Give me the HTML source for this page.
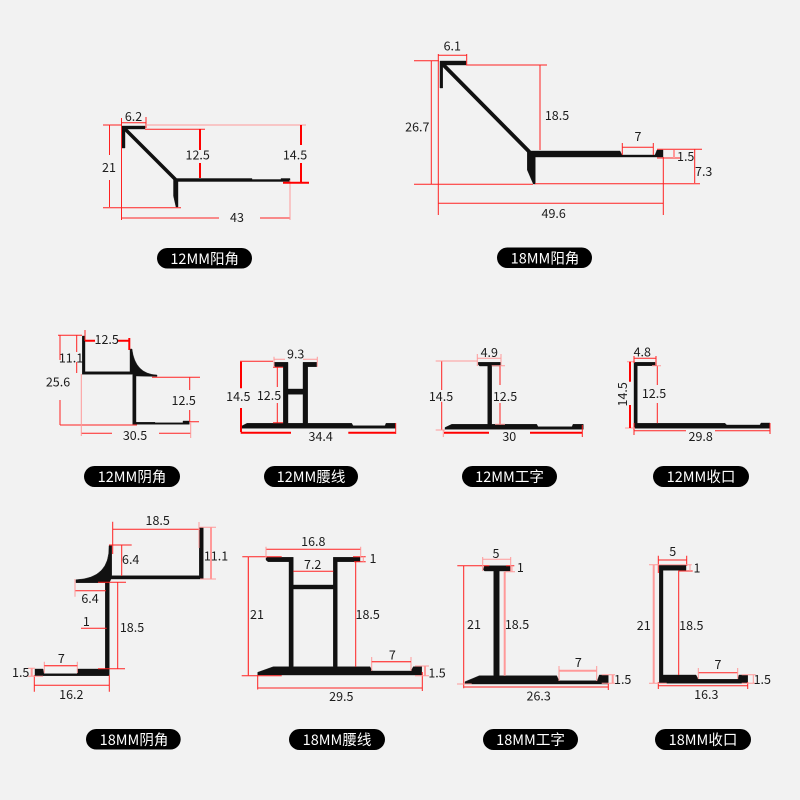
<!DOCTYPE html>
<html><head><meta charset="utf-8"><style>
html,body{margin:0;padding:0;background:#f2f2f2}
svg{display:block}
text{font-family:"Noto Sans CJK SC","Liberation Sans",sans-serif;font-size:12.5px;fill:#1c1c1c;text-anchor:middle;dominant-baseline:central}
.p{fill:#111;stroke:#111;stroke-width:.4}
.r{stroke:#f22;stroke-width:1;fill:none}
.t{stroke:#f00;stroke-width:2;fill:none}
.l{stroke:#f99;stroke-width:1;fill:none}
.w{stroke:#f99;stroke-width:2;fill:none}
.b{fill:#000}
.c{fill:#fff;font-size:14.5px}
</style></head><body>
<svg width="800" height="800" viewBox="0 0 800 800" xmlns="http://www.w3.org/2000/svg">
<rect width="800" height="800" fill="#f2f2f2"/>

<!-- 1: 12MM yang -->
<path class="p" d="M122 126H145V129H125V148H122Z"/>
<path d="M123.500 127.500L175.500 179.500" stroke="#111" stroke-width="3.600" fill="none"/>
<path class="p" d="M173.500 178.500H252V179.500H281V178.500H290V181.500H178V207H176L173.500 196Z"/>
<path class="r" d="M103 125H122M109.500 125V155M109.500 180V207M103 207.700H181M122 122.700H146M121.500 118V220M146 117V128M145 129.300H205M122 218H219M260 218H290"/>
<path class="l" d="M146 125H306M290 180V220"/>
<path class="t" d="M200 129V150M200 163V178M301 125V145M301 163V182M283 182.700H309"/>
<text x="133.500" y="115.500">6.2</text><text x="197.700" y="154">12.5</text><text x="295" y="154">14.5</text><text x="109" y="166.700">21</text><text x="237" y="216.700">43</text>
<rect class="b" x="157" y="248" width="95" height="20.500" rx="10.200"/><text class="c" x="204.700" y="258.500">12MM阳角</text>

<!-- 2: 18MM yang -->
<path class="p" d="M440 61H466V65H442.700V88H440Z"/>
<path d="M442 63.500L529.500 152" stroke="#111" stroke-width="3.800" fill="none"/>
<path class="p" d="M527.300 151H620L622 155H655L657 150H663V157H535.300V184H533.300L527.300 170Z"/>
<path class="r" d="M414 60.700H439M431.300 60.700V184M414 184.300H533M535 183.700H700M438.300 55.300H466.700M438.300 54V215M466.700 54V65M466 65H547M540 65V150M622.300 147.300H653.300M622.300 143V155M653.300 143V155M657 149.300H702M657 158H680M694.700 149V183M663.300 157V215M438.300 203.300H663.300"/>
<path class="w" d="M674 150V158"/>
<text x="452.300" y="45">6.1</text><text x="417.300" y="126">26.7</text><text x="557" y="114.700">18.5</text><text x="638" y="135.700">7</text><text x="685.700" y="155.700">1.5</text><text x="703.700" y="170.700">7.3</text><text x="553.700" y="212.700">49.6</text>
<rect class="b" x="497" y="247.500" width="95" height="20.500" rx="10.200"/><text class="c" x="545" y="258">18MM阳角</text>

<!-- 3: 12MM yin -->
<path class="p" d="M82.300 336H85V371.700H130V349H132Q135 374 157 375V376.500L136 376V422.300H155V422.800L183 422.800V421H189.300V424.300H132.700V374.300H82.300Z"/>
<path class="r" d="M58 335.300H82M60 335.300V360M60 400V425M76.700 335V352M76.700 362V373M152 377.300H200M189.700 377V390M189.700 410V422M190 421.700H199M60 425H137M81 433.300H112M159 433.300H191M85 330V341"/>
<path class="l" d="M81.300 374V436M190.700 422V438"/>
<path class="t" d="M85 340.700H95M118 340.700H129M129.300 338V350"/>
<text x="106.700" y="338.700">12.5</text><text x="71" y="357">11.1</text><text x="58" y="381">25.6</text><text x="183.700" y="399.700">12.5</text><text x="135" y="434.300">30.5</text>
<rect class="b" x="84" y="466" width="96" height="21" rx="10.500"/><text class="c" x="132" y="476.500">12MM阴角</text>

<!-- 4: 12MM waist -->
<path class="p" d="M274 362.300H288V389H303V362.300H316.700V366.700H307.700V423.300H351.700L353 425.700H385L386 423.300H395.700V428.300H241.700V426L247 423.300H283.300V366.700H275L274 365.500ZM288 394.300V423.300H303V394.300Z"/>
<path class="r" d="M277.300 367V387M277.300 403V423.300M273 367.300H283M273 422.700H283M240 361.300H273"/>
<path class="l" d="M274 359.300H285M303 359.300H317.300M274 356.700V366.700M317.300 356.700V366.700"/>
<path class="t" d="M241 361.700V388.300M241 408V432M240.700 432.700H291M348.300 432.700H395.700"/>
<path class="r" d="M395.700 423V434"/>
<text x="295.700" y="353">9.3</text><text x="238.300" y="395.700">14.5</text><text x="269" y="394.700">12.5</text><text x="320.700" y="435.700">34.4</text>
<rect class="b" x="264" y="466" width="94" height="21" rx="10.500"/><text class="c" x="311" y="476.500">12MM腰线</text>

<!-- 5: 12MM I -->
<path class="p" d="M478.300 362.300H500.700V366H491.700V424.300H536.700L538 426.700H572L573 424.300H583.300V429.300H445V427.500L451.700 424.300H487.700V366H479.500L478.300 364.500Z"/>
<path class="r" d="M441.700 361V390M441.700 401.700V430M500 365.700V385M500 403V424.300"/>
<path class="l" d="M435.700 361H477.300M435.700 430H445M477.300 358.300H501M477.300 354V366M501 354V366M491.700 365.700H505M495 424.300H505"/>
<path class="t" d="M444 432.700H489M530 432.700H582.300"/>
<path class="r" d="M582.300 425V437"/><path class="l" d="M443.300 430V437"/>
<text x="489.300" y="351.700">4.9</text><text x="441" y="395.700">14.5</text><text x="505" y="395.700">12.5</text><text x="509.300" y="435.700">30</text>
<rect class="b" x="462" y="466" width="95" height="21" rx="10.500"/><text class="c" x="509.500" y="476.500">12MM工字</text>

<!-- 6: 12MM close -->
<path class="p" d="M634 362.300H655V365.700H637.300V423.300H725L726.700 425H760L761 423H770V428.300H634Z"/>
<path class="r" d="M657.300 365.700V385M657.300 403V423.300M634 430.700H686M715 430.700H770M634 423V435M770 423V434"/>
<path class="l" d="M627 361.700H635M652 365.700H661M625 428H635"/>
<path class="t" d="M630 361.700V381.700M630 405V428"/>
<path class="r" d="M634 358.300H656M634 356V363M656 356V366"/>
<text x="642.300" y="351">4.8</text><text x="621.700" y="394.300" transform="rotate(-90 621.700 394.300)">14.5</text><text x="654" y="392.300">12.5</text><text x="700.700" y="435.700">29.8</text>
<rect class="b" x="653" y="466" width="96" height="21" rx="10.500"/><text class="c" x="701" y="476.500">12MM收口</text>

<!-- 7: 18MM yin -->
<path class="p" d="M199.300 527.700H203.300V579H111L109.300 582.700V669H109.300V675.700H35V669H43L44 673.700H77.300V669H105.300V582.700H76V579.700Q110 578.300 109 545.700H111.700V575.700H199.300Z"/>
<path class="r" d="M112.700 529.300H200M112.700 521.700V554M109 545H131.700M121.700 545V576M98 582.300H126M117.700 582V669M98 668.700H125M75 590.700H106M81 628.300H106.700M34.300 685.300H109.300M34.300 675V691.700M109.300 675V691.700"/>
<path class="l" d="M199 522V548M200 527.300H216M200 579H216M75 579V596.700M44.300 665.700H77.300M44.300 661.700V673M77.300 661.700V673M28 668.300H35M28 676.300H43"/>
<path class="w" d="M211 527.300V579M31.700 668.300V676.300"/>
<path d="M44.300 665.700H77.300" class="r"/>
<text x="157.700" y="519.300">18.5</text><text x="216" y="555">11.1</text><text x="130.700" y="558.300">6.4</text><text x="90" y="597.700">6.4</text><text x="86.300" y="620.700">1</text><text x="132" y="626.700">18.5</text><text x="61.300" y="657.700">7</text><text x="20.700" y="671.700">1.5</text><text x="71.300" y="693.700">16.2</text>
<rect class="b" x="86" y="729" width="94.700" height="20.500" rx="10.200"/><text class="c" x="134" y="739.500">18MM阴角</text>

<!-- 8: 18MM waist -->
<path class="p" d="M266 557.300H293.300V585H333.300V557.300H360V561.700H337.300V666.700H370L372.300 671H411L413.300 666.700H421.700V675H257.700V672.300L273.300 666.700H289V561.700H268L266 560ZM293.300 589V666.700H333.300V589Z"/>
<path class="r" d="M266 549.300H360.700M242.300 556.700H281.700M241.700 675.700H281.700M293.300 571.300H333.300M355.700 561.700V666.700M354 561.700H365.700M353 556.700H365.700M257.700 688H422.300M257.700 675V689.500M422.300 672V691"/>
<path class="l" d="M266 546.700V558M360.700 546.700V558M248.300 556.700V675.700M363.300 556.700V561.700M371.700 661.700H411M371.700 657V671M411 657V671M415 666H429M415 675.700H429"/>
<path class="w" d="M425 666V675.700"/><path class="r" d="M248.300 556.700V675.700M371.700 661.700H411"/>
<text x="313.300" y="540.700">16.8</text><text x="312.700" y="563.300">7.2</text><text x="373" y="557.700">1</text><text x="257" y="613.700">21</text><text x="367.700" y="613.700">18.5</text><text x="392.300" y="654">7</text><text x="437" y="672">1.5</text><text x="341.300" y="695.300">29.5</text>
<rect class="b" x="289" y="729" width="96" height="21" rx="10.500"/><text class="c" x="337" y="739.500">18MM腰线</text>

<!-- 9: 18MM I -->
<path class="p" d="M484.500 565.700H510.700V571H499.300V675.700H556.700L559 680.700H597.300L599.300 675H608.300V684H465V681.700L479.300 675.700H493.700V571H484.500L483.300 569.500Z"/>
<path class="r" d="M457.300 565.700H489.300M463.700 565.700V688.300M463.700 687H608.300M608.300 683V690M506 565.700H514.300"/>
<path class="l" d="M457 684H471.700M482.700 559.300H510.700M482.700 557V571M510.700 557V571M505 571.700H515M512 565.700V571.700M601.700 674.700H615M601.700 683.300H615M559 666V681M596.700 666V681"/>
<path class="w" d="M504.700 571.700V675.700M559 670.700H596.700M612.700 674.700V683.300"/>
<text x="496" y="552.700">5</text><text x="520.300" y="566.700">1</text><text x="474" y="623.700">21</text><text x="517" y="623.700">18.5</text><text x="578.300" y="661.700">7</text><text x="622.700" y="678.700">1.5</text><text x="538.700" y="695">26.3</text>
<rect class="b" x="483" y="729" width="95" height="21" rx="10.500"/><text class="c" x="530.500" y="739.500">18MM工字</text>

<!-- 10: 18MM close -->
<path class="p" d="M659.300 565H686V570.300H663V675H696L698.300 679.300H737.700L739 675H747.700V683.300H659.300Z"/>
<path class="r" d="M658.300 560H686.700M678.300 571H692.700M678.700 571V675M698.300 672.700H737.700M658.300 685.700H747.700M658.300 682V689M747.700 682V689M658.300 555.700V573M686.700 555.700V566"/>
<path class="l" d="M649 564.700H691.700M649 683.300H666.700M690 564.700V571M698.300 668V679M737.700 668V679M741.700 674.700H755.700M741.700 683.300H755.700M753.300 674.700V683.300"/>
<path class="w" d="M653.700 564.700V683.300"/>
<text x="672.700" y="550.300">5</text><text x="697" y="567">1</text><text x="643.700" y="624.300">21</text><text x="691.300" y="624.300">18.5</text><text x="718" y="663.700">7</text><text x="762.300" y="678.700">1.5</text><text x="706.300" y="693.700">16.3</text>
<rect class="b" x="655" y="729" width="96" height="21" rx="10.500"/><text class="c" x="703" y="739.500">18MM收口</text>
</svg>
</body></html>
